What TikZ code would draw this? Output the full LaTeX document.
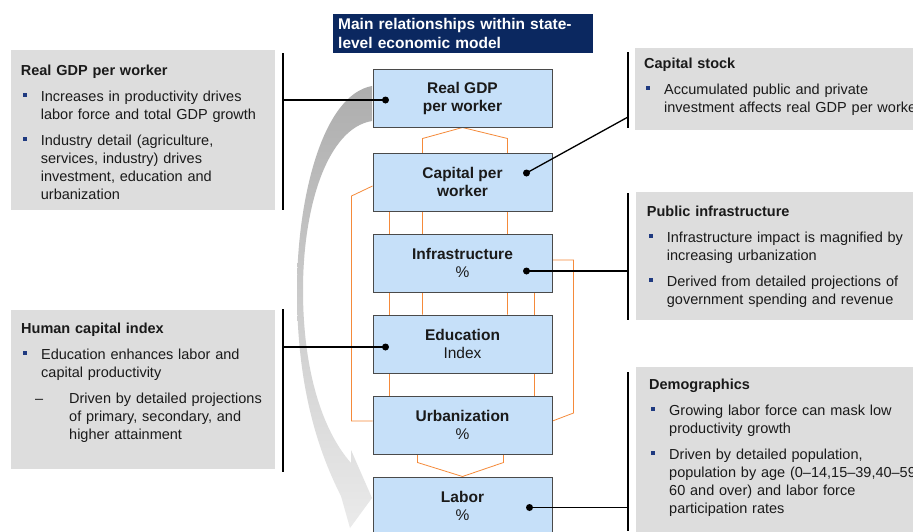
\documentclass[tikz,border=0pt]{standalone}
\usepackage{fontspec}
\setmainfont{Liberation Sans}
\usetikzlibrary{positioning,calc,backgrounds}
\definecolor{semnavy}{HTML}{0B2860}
\definecolor{semblue}{HTML}{C6E0F9}
\definecolor{semedge}{HTML}{4A4A4A}
\definecolor{sempanelfill}{HTML}{DDDDDD}
\definecolor{semorange}{HTML}{F58A3A}
\definecolor{sembullet}{HTML}{1F3A80}
\definecolor{semink}{HTML}{1A1A1A}
\tikzset{
  sem/.style={font=\fontsize{14.5}{18}\selectfont, text=semink},
  sembox/.style={draw=semedge, fill=semblue, line width=1pt, minimum width=179,
    minimum height=58, align=center, inner sep=0pt,
    font=\fontsize{15.5}{18}\selectfont},
  semtitle/.style={anchor=north west, fill=semnavy, text=white, text width=250,
    inner xsep=5, inner ysep=0, minimum height=39, align=left,
    font=\bfseries\fontsize{15.5}{18.7}\selectfont},
  sempanel/.style={fill=sempanelfill, inner sep=0pt, anchor=north west},
  semtext/.style={anchor=north west, inner sep=0pt, text width=330,
    execute at begin node=\raggedright},
  semlink/.style={line width=0.8pt, draw=semorange},
  sembrk/.style={line width=1.6pt, draw=black},
  semcon/.style={line width=1.3pt, draw=black},
  semdot/.style={circle, fill=black, inner sep=0pt, minimum size=7},
}
\newcommand{\semnl}{\hfil\break}
\newcommand{\semsq}{\raisebox{4.5pt}{\textcolor{sembullet}{\rule{3.6pt}{3.6pt}}}}
\newcommand{\semitem}[1]{\par\vspace{8pt}\hangindent=20pt\hangafter=1\noindent
  \makebox[20pt][l]{\hspace{2pt}\semsq}#1\par}
\newcommand{\semsub}[1]{\par\vspace{8pt}\hangindent=48pt\hangafter=1\noindent
  \makebox[48pt][l]{\hspace{14pt}--}#1\par}

\begin{document}
\begin{tikzpicture}[sem, x=1pt, y=-1pt]
  \useasboundingbox (0,0) rectangle (913,531);
  \clip (0,0) rectangle (913,531);

  % side panels
  \node[sempanel, minimum width=264, minimum height=160] (p1) at (11,50) {};
  \node[sempanel, minimum width=264, minimum height=159] (p2) at (11,310) {};
  \node[sempanel, minimum width=290, minimum height=82] (p3) at (635,48) {};
  \node[sempanel, minimum width=290, minimum height=128] (p4) at (636,192) {};
  \node[sempanel, minimum width=290, minimum height=180] (p5) at (636,367) {};

  \node[semtext] (t1) at (20.7,64.7) {%
    \textbf{Real GDP per worker}
    \semitem{Increases in productivity drives\semnl labor force and total GDP growth}
    \semitem{Industry detail (agriculture,\semnl services, industry) drives\semnl
      investment, education and\semnl urbanization}};
  \node[semtext] (t2) at (21,322.7) {%
    \textbf{Human capital index}
    \semitem{Education enhances labor and\semnl capital productivity}
    \semsub{Driven by detailed projections\semnl of primary, secondary, and\semnl
      higher attainment}};
  \node[semtext] (t3) at (644,57.7) {%
    \textbf{Capital stock}
    \semitem{Accumulated public and private\semnl investment affects real GDP per worker}};
  \node[semtext] (t4) at (646.7,205.7) {%
    \textbf{Public infrastructure}
    \semitem{Infrastructure impact is magnified by\semnl increasing urbanization}
    \semitem{Derived from detailed projections of\semnl government spending and revenue}};
  \node[semtext] (t5) at (649,378.7) {%
    \textbf{Demographics}
    \semitem{Growing labor force can mask low\semnl productivity growth}
    \semitem{Driven by detailed population,\semnl population by age (0--14,15--39,40--59,\semnl
      60 and over) and labor force\semnl participation rates}};

  % title
  \node[semtitle] (ttl) at (333,14) {Main relationships within state-\\level economic model};

  % model boxes
  \node[sembox] (gdp) at (462.5,98) {\textbf{Real GDP}\\\textbf{per worker}};
  \node[sembox, below=25pt of gdp] (cap) {\textbf{Capital per}\\\textbf{worker}};
  \node[sembox, below=22pt of cap] (infra) {\textbf{Infrastructure}\\\%};
  \node[sembox, below=22pt of infra] (edu) {\textbf{Education}\\Index};
  \node[sembox, below=22pt of edu] (urb) {\textbf{Urbanization}\\\%};
  \node[sembox, below=22pt of urb] (labor) {\textbf{Labor}\\\%};

  \begin{scope}[on background layer]
    \fill[white] (0,0) rectangle (913,531);
    % grey flow arrow
    \shade[top color=black!32, bottom color=black!8]
      (372,86) .. controls (322,95) and (297,200) .. (297,290)
      .. controls (297,380) and (315,445) .. (341,496)
      -- (350,528) -- (372,498) -- (351,450) -- (351,463)
      .. controls (322,430) and (303,370) .. (303,290)
      .. controls (303,205) and (328,128) .. (372,121) -- cycle;
    % orange links
    \draw[semlink] ($(edu.north west)+(50,0)$) -- ($(cap.north west)+(50,-14)$)
      -- (gdp.south) -- ($(cap.north west)+(135,-14)$) -- ($(edu.north west)+(135,0)$);
    \draw[semlink] ($(cap.south west)+(17,0)$) -- ($(urb.north west)+(17,0)$);
    \draw[semlink] ($(infra.south west)+(162,0)$) -- ($(urb.north west)+(162,0)$);
    \draw[semlink] ($(cap.west)+(0,4)$) -- ($(cap.west)+(-21,14)$) |- ($(urb.west)+(0,-4)$);
    \draw[semlink] ($(infra.east)+(0,-3)$) -| ($(urb.east)+(21,-12)$) -- ($(urb.east)+(0,-4)$);
    \draw[semlink] ($(urb.south west)+(45,0)$) -- ++(0,8) -- (labor.north)
      -- ($(urb.south west)+(131,8)$) -- ($(urb.south west)+(131,0)$);
  \end{scope}

  % brackets and callouts
  \coordinate (b1t) at (283,53);  \coordinate (b1b) at (283,210);
  \coordinate (b2t) at (283,309); \coordinate (b2b) at (283,472);
  \coordinate (b3t) at (628,52);  \coordinate (b3b) at (628,128);
  \coordinate (b3m) at (628,117);
  \coordinate (b4t) at (628,193); \coordinate (b4b) at (628,320);
  \coordinate (b5t) at (628,372); \coordinate (b5b) at (628,531);
  \foreach \k in {1,...,5}
    \draw[sembrk] (b\k t) -- (b\k b);

  \node[semdot] (d1) at ($(gdp.west)+(13,2)$) {};
  \node[semdot] (d2) at ($(edu.west)+(13,3)$) {};
  \node[semdot] (d3) at ($(cap.east)+(-26,-9)$) {};
  \node[semdot] (d4) at ($(infra.east)+(-26,8)$) {};
  \node[semdot] (d5) at ($(labor.east)+(-23,1.5)$) {};
  \draw[semcon] (d1.center) -- (d1 -| b1t);
  \draw[semcon] (d2.center) -- (d2 -| b2t);
  \draw[semcon] (d3.center) -- (b3m);
  \draw[semcon] (d4.center) -- (d4 -| b4t);
  \draw[semcon] (d5.center) -- (d5 -| b5t);
\end{tikzpicture}
\end{document}
